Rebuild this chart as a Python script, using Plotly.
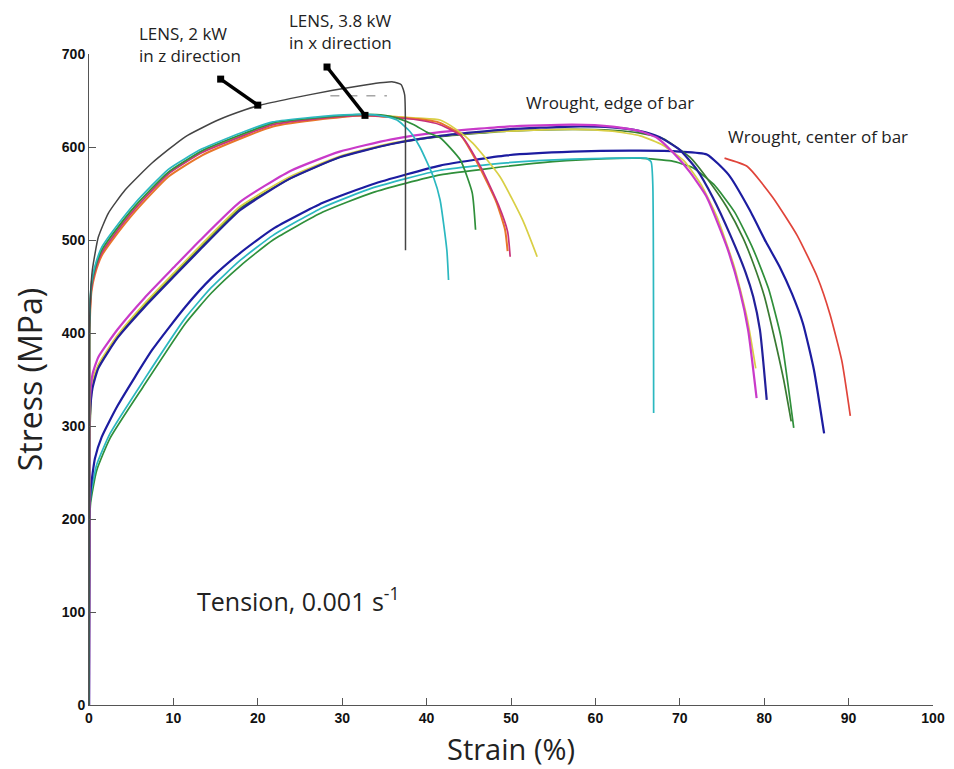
import plotly.graph_objects as go

# ---------------- data (strain %, stress MPa) ----------------
# LENS, 2 kW, z direction (black)
lens2_x = [0, 0.05, 0.2, 0.4, 1.1, 2.3, 4.3, 7.5, 11.4, 15.3, 18.5, 20.3, 23.8, 28.9, 32.9, 36.0, 37.0, 37.4, 37.5, 37.5]
lens2_y = [0, 400, 445, 468, 503, 529, 554, 583, 611, 629, 640, 645, 652, 661, 667, 670, 667, 656, 600, 489]

# LENS, 3.8 kW, x direction
lens38_cyan_x = [0, 0.05, 0.3, 0.7, 1.5, 2.7, 5.5, 9.4, 13.4, 18.5, 21.8, 27.7, 32.5, 35.0, 36.5, 38.0, 39.2, 40.8, 41.6, 42.4, 42.6]
lens38_cyan_y = [0, 410, 455, 472, 492, 508, 540, 576, 598, 617, 627, 633, 635, 633, 629, 617, 600, 568, 543, 489, 457]
lens38_green_x = [0, 0.05, 0.3, 0.7, 1.5, 2.7, 5.5, 9.4, 13.4, 18.5, 21.8, 27.7, 32.5, 35.0, 36.5, 38.5, 40.0, 41.6, 44.0, 45.4, 45.8]
lens38_green_y = [0, 405, 452, 469, 489, 505, 537, 573, 596, 615, 626, 632, 635, 634, 631, 624, 616, 610, 586, 551, 511]
lens38_orange_x = [0, 0.05, 0.3, 0.7, 1.5, 2.7, 5.5, 9.4, 13.4, 18.5, 21.8, 27.7, 32.5, 36.0, 39.0, 41.6, 44.0, 46.3, 48.3, 49.3, 49.6]
lens38_orange_y = [0, 395, 445, 463, 483, 499, 531, 568, 591, 611, 622, 630, 634, 632, 630, 626, 613, 578, 540, 511, 488]
lens38_magenta_x = [0, 0.05, 0.3, 0.7, 1.5, 2.7, 5.5, 9.4, 13.4, 18.5, 21.8, 27.7, 32.5, 36.0, 39.0, 41.6, 44.2, 46.5, 48.5, 49.6, 49.9]
lens38_magenta_y = [0, 400, 448, 466, 486, 502, 534, 571, 594, 613, 624, 631, 634, 632, 629, 624, 611, 577, 538, 509, 482]
lens38_yellow_x = [0, 0.05, 0.3, 0.7, 1.5, 2.7, 5.5, 9.4, 13.4, 18.5, 21.8, 27.7, 32.5, 36.0, 39.0, 41.6, 43.5, 45.5, 48.7, 51.4, 53.1]
lens38_yellow_y = [55, 402, 450, 468, 488, 504, 536, 572, 595, 614, 625, 632, 634, 633, 631, 629, 619, 604, 568, 521, 482]

# Wrought, edge of bar
edge_magenta_x = [0, 0.05, 0.1, 0.4, 1.1, 3.4, 6.6, 10.2, 13.2, 17.9, 23.8, 29.7, 35.7, 41.6, 49.5, 57.3, 62.0, 65.3, 67.3, 69.2, 71.2, 73.2, 75.6, 77.1, 78.1, 79.1]
edge_magenta_y = [0, 290, 325, 355, 374, 404, 438, 472, 500, 541, 574, 595, 608, 616, 622, 624, 622, 617, 610, 594, 573, 546, 492, 446, 403, 330]
edge_blue_x = [0, 0.05, 0.1, 0.4, 1.1, 3.4, 6.6, 10.2, 13.2, 17.9, 23.8, 29.7, 35.7, 41.6, 49.5, 57.3, 62.0, 65.3, 67.5, 70.0, 72.0, 73.9, 76.0, 77.8, 78.7, 79.5, 80.3]
edge_blue_y = [0, 270, 310, 340, 362, 395, 428, 462, 490, 532, 566, 589, 603, 612, 619, 622, 621, 617, 611, 597, 576, 546, 505, 465, 439, 403, 328]
edge_yellow_x = [0, 0.05, 0.4, 1.1, 3.4, 6.6, 10.2, 13.2, 17.9, 23.8, 29.7, 35.7, 41.6, 49.5, 57.3, 62.0, 65.3, 68.0, 70.5, 72.5, 74.4, 76.5, 78.0, 79.0]
edge_yellow_y = [0, 280, 348, 366, 398, 432, 466, 494, 536, 568, 590, 604, 612, 617, 619, 617, 612, 602, 585, 560, 525, 470, 415, 362]
edge_green_x = [0, 0.05, 0.4, 1.1, 3.4, 6.6, 10.2, 13.2, 17.9, 23.8, 29.7, 35.7, 41.6, 49.5, 57.3, 62.0, 65.3, 68.0, 71.2, 73.5, 75.6, 77.5, 78.7, 80.0, 81.0, 82.3, 83.2]
edge_green_y = [0, 275, 345, 364, 396, 430, 464, 492, 534, 566, 589, 603, 611, 617, 619, 618, 615, 609, 589, 563, 535, 502, 475, 440, 403, 350, 305]

# Wrought, center of bar
center_blue_x = [0, 0.05, 0.2, 0.7, 1.5, 3.4, 7.5, 11.4, 14.5, 17.9, 21.8, 27.7, 33.6, 41.6, 49.5, 57.3, 65.3, 70.0, 73.2, 75.8, 78.3, 80.2, 81.9, 83.3, 84.6, 85.9, 87.1]
center_blue_y = [0, 200, 232, 265, 288, 322, 382, 428, 459, 486, 512, 540, 560, 580, 591, 595, 596, 595, 592, 570, 532, 498, 470, 442, 410, 360, 292]
center_cyan_x = [0, 0.05, 0.2, 0.9, 2.5, 6.4, 11.4, 14.5, 17.9, 21.8, 27.7, 33.6, 41.6, 49.5, 57.3, 63.0, 66.0, 66.6, 66.8, 66.9]
center_cyan_y = [0, 195, 225, 258, 292, 348, 416, 449, 478, 505, 535, 556, 575, 583, 587, 588, 588, 584, 560, 314]
center_green_x = [0, 0.05, 0.2, 0.9, 2.5, 6.4, 11.4, 14.5, 17.9, 21.8, 27.7, 33.6, 41.6, 53.4, 60.0, 65.3, 69.0, 71.5, 74.0, 76.5, 78.7, 80.5, 82.0, 83.5]
center_green_y = [0, 190, 218, 252, 287, 342, 410, 443, 472, 500, 530, 551, 570, 583, 587, 588, 585, 578, 560, 530, 490, 448, 395, 298]
center_red_x = [75.3, 78.0, 81.0, 83.9, 86.3, 87.8, 89.2, 90.2]
center_red_y = [588, 579, 546, 505, 460, 420, 370, 311]

# dashed reference segment near the black curve
dash_x = [28.6, 35.3]
dash_y = [655, 655]

# pointers (start, end) for the LENS labels
ptr1_x = [15.6, 20.0]
ptr1_y = [673, 645]
ptr2_x = [28.2, 32.7]
ptr2_y = [686, 634]

x_ticks = [0, 10, 20, 30, 40, 50, 60, 70, 80, 90, 100]
y_ticks = [0, 100, 200, 300, 400, 500, 600, 700]

# ---------------- figure ----------------
fig = go.Figure()

def add(x, y, color, width=1.7, dash=None):
    fig.add_trace(go.Scatter(x=x, y=y, mode="lines",
                             line=dict(color=color, width=width, dash=dash, shape="spline", smoothing=0.5),
                             hoverinfo="skip", showlegend=False))

# center of bar
add(center_green_x, center_green_y, "#2f8f3a")
add(center_cyan_x, center_cyan_y, "#2bb8c0")
add(center_blue_x, center_blue_y, "#1c1ca0", 2.2)
add(center_red_x, center_red_y, "#e0443a")
# edge of bar
add(edge_green_x, edge_green_y, "#3a7a32")
add(edge_yellow_x, edge_yellow_y, "#d9cf45")
add(edge_blue_x, edge_blue_y, "#22209a", 2.2)
add(edge_magenta_x, edge_magenta_y, "#c93ac9", 2.2)
# LENS 3.8 kW
add(lens38_yellow_x, lens38_yellow_y, "#d9cf45")
add(lens38_orange_x, lens38_orange_y, "#e8762a", 2.0)
add(lens38_magenta_x, lens38_magenta_y, "#c8327a")
add(lens38_green_x, lens38_green_y, "#2f8f3a")
add(lens38_cyan_x, lens38_cyan_y, "#2bb8c0")
# LENS 2 kW
add(lens2_x, lens2_y, "#444444", 1.5)
add(dash_x, dash_y, "#777777", 1.0, "dash")

# pointers
for px, py in ((ptr1_x, ptr1_y), (ptr2_x, ptr2_y)):
    fig.add_trace(go.Scatter(x=px, y=py, mode="lines+markers",
                             line=dict(color="black", width=3.5),
                             marker=dict(symbol="square", size=7, color="black"),
                             hoverinfo="skip", showlegend=False, cliponaxis=False))

FAM = "'Open Sans', Lato, sans-serif"
txt_font = dict(family=FAM, size=17, color="#222222")
fig.add_annotation(x=5.7, y=1.0146, xref="x", yref="paper", text="LENS, 2 kW<br>in z direction",
                   showarrow=False, xanchor="left", yanchor="middle", align="left", font=txt_font)
fig.add_annotation(x=23.5, y=1.0338, xref="x", yref="paper", text="LENS, 3.8 kW<br>in x direction",
                   showarrow=False, xanchor="left", yanchor="middle", align="left", font=txt_font)
fig.add_annotation(x=61.7, y=648, xref="x", yref="y", text="Wrought, edge of bar",
                   showarrow=False, xanchor="center", yanchor="middle", font=txt_font)
fig.add_annotation(x=86.4, y=611, xref="x", yref="y", text="Wrought, center of bar",
                   showarrow=False, xanchor="center", yanchor="middle", font=txt_font)
fig.add_annotation(x=24.8, y=113, xref="x", yref="y", text="Tension, 0.001 s<sup>-1</sup>",
                   showarrow=False, xanchor="center", yanchor="middle",
                   font=dict(family=FAM, size=25, color="#222222"))

tick_font = dict(family="'Liberation Sans', Arial, sans-serif", size=14, color="#111111", weight="bold")
fig.update_xaxes(range=[0, 100], tickvals=x_ticks, ticks="inside", ticklen=7, tickcolor="#555555",
                 showline=True, linecolor="#555555", linewidth=1, showgrid=False, zeroline=False,
                 tickfont=tick_font, automargin=False,
                 title=dict(text="Strain (%)", font=dict(family=FAM, size=29, color="#222222"),
                            standoff=14))
fig.update_yaxes(range=[0, 700], tickvals=y_ticks, ticks="inside", ticklen=7, tickcolor="#555555",
                 showline=True, linecolor="#555555", linewidth=1, showgrid=False, zeroline=False,
                 tickfont=tick_font, automargin=False,
                 title=dict(text="Stress (MPa)", font=dict(family=FAM, size=32, color="#222222"),
                            standoff=10))
# the page body adds an 8px offset; figure sized so the plot area lands where the reference has it
fig.update_layout(width=938, height=761, plot_bgcolor="white", paper_bgcolor="white",
                  margin=dict(l=81, r=13, t=46, b=64), showlegend=False)

fig.write_html("out.html")
